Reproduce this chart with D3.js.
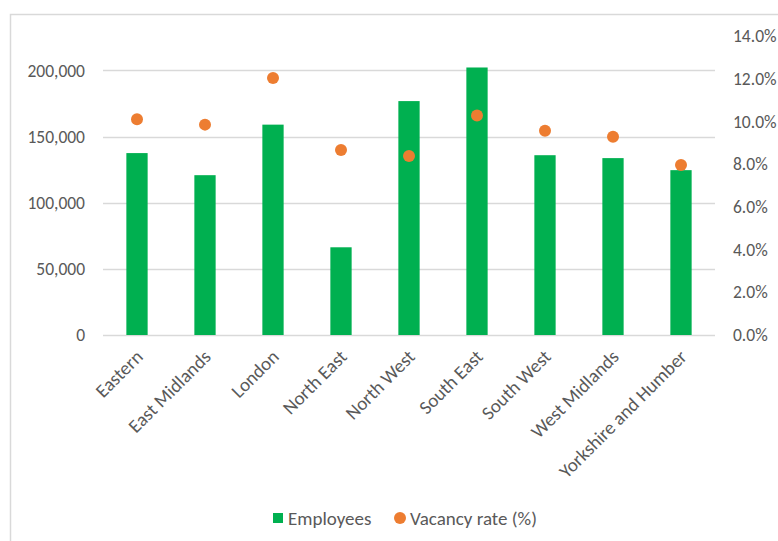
<!DOCTYPE html>
<html>
<head>
<meta charset="utf-8">
<script src="https://cdn.jsdelivr.net/npm/d3@7"></script>
<style>
  html, body { margin: 0; padding: 0; background: #fff; }
  svg { display: block; }
  text { font-family: Carlito, Lato, "Open Sans", sans-serif; fill: #595959; }
</style>
</head>
<body>
<svg id="chart" width="778" height="541"></svg>
<script>
const categories = ["Eastern", "East Midlands", "London", "North East", "North West",
  "South East", "South West", "West Midlands", "Yorkshire and Humber"];
const employees = [137500, 120800, 159000, 66300, 176800, 202200, 135900, 133700, 124600];
const vacancyRate = [0.101, 0.0985, 0.1203, 0.0866, 0.0838, 0.1028, 0.0956, 0.0928, 0.0796];
const leftTicks = [0, 50000, 100000, 150000, 200000];
const rightTicks = [0, 0.02, 0.04, 0.06, 0.08, 0.10, 0.12, 0.14];
const seriesNames = ["Employees", "Vacancy rate (%)"];

const numSize = 17.5, txtSize = 19;
const svg = d3.select("#chart");
const plot = { left: 103, right: 715, top: 36, bottom: 335 };

// frame
svg.append("rect")
  .attr("x", 10.5).attr("y", 14.5)
  .attr("width", 900).attr("height", 700)
  .attr("fill", "none").attr("stroke", "#D9D9D9").attr("stroke-width", 1.5);

const x = d3.scaleBand().domain(categories)
  .range([plot.left, plot.right])
  .paddingInner(0.687).paddingOuter(0.3435);
const yL = d3.scaleLinear().domain([0, 226000]).range([plot.bottom, plot.top]);
const yR = d3.scaleLinear().domain([0, 0.14]).range([plot.bottom, plot.top]);

// gridlines
svg.append("g").selectAll("line").data(leftTicks).join("line")
  .attr("x1", plot.left).attr("x2", plot.right)
  .attr("y1", d => Math.round(yL(d)) + 0.5).attr("y2", d => Math.round(yL(d)) + 0.5)
  .attr("stroke", "#D9D9D9").attr("stroke-width", 1.3);

// left axis
const axL = svg.append("g").attr("transform", `translate(${plot.left},0)`)
  .call(d3.axisLeft(yL).tickValues(leftTicks).tickFormat(d3.format(",")).tickSize(0).tickPadding(18));
axL.select(".domain").remove();
axL.selectAll("text").attr("font-size", numSize).attr("fill", "#595959")
  .style("font-family", "Carlito, Lato, sans-serif");

// right axis
const axR = svg.append("g").attr("transform", `translate(${plot.right},0)`)
  .call(d3.axisRight(yR).tickValues(rightTicks).tickFormat(d3.format(".1%")).tickSize(0).tickPadding(18));
axR.select(".domain").remove();
axR.selectAll("text").attr("font-size", numSize).attr("fill", "#595959")
  .style("font-family", "Carlito, Lato, sans-serif");

// bars
svg.append("g").selectAll("rect").data(employees).join("rect")
  .attr("x", (d, i) => x(categories[i]))
  .attr("width", x.bandwidth())
  .attr("y", d => yL(d))
  .attr("height", d => yL(0) - yL(d))
  .attr("fill", "#00B050");

// dots
svg.append("g").selectAll("circle").data(vacancyRate).join("circle")
  .attr("cx", (d, i) => x(categories[i]) + x.bandwidth() / 2)
  .attr("cy", d => yR(d))
  .attr("r", 6)
  .attr("fill", "#ED7D31");

// x axis labels
const axX = svg.append("g").attr("transform", `translate(0,${plot.bottom})`)
  .call(d3.axisBottom(x).tickSize(0).tickPadding(0));
axX.select(".domain").remove();
axX.selectAll("text")
  .attr("font-size", txtSize).attr("fill", "#595959")
  .style("font-family", "Carlito, Lato, sans-serif")
  .attr("text-anchor", "end")
  .attr("dy", "0")
  .attr("transform", "translate(7,23) rotate(-45)");

// legend
const lg = svg.append("g");
lg.append("rect").attr("x", 273).attr("y", 513).attr("width", 10).attr("height", 10).attr("fill", "#00B050");
lg.append("text").attr("x", 288).attr("y", 525).attr("font-size", txtSize).text(seriesNames[0]);
lg.append("circle").attr("cx", 400).attr("cy", 518).attr("r", 6).attr("fill", "#ED7D31");
lg.append("text").attr("x", 410).attr("y", 525).attr("font-size", txtSize).text(seriesNames[1]);
</script>
</body>
</html>
